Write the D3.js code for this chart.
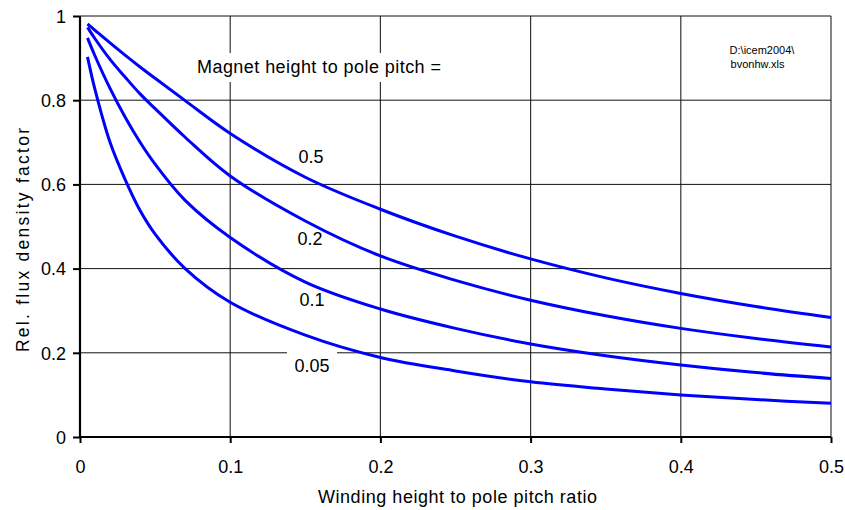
<!DOCTYPE html>
<html><head><meta charset="utf-8">
<script src="https://cdn.jsdelivr.net/npm/d3@7"></script>
<style>body{margin:0;background:#fff;} text{font-family:"Liberation Sans",Arial,sans-serif;fill:#000;}</style>
</head><body>
<svg id="c" width="845" height="510"></svg>
<script>
const xVals = [0.005, 0.01, 0.02, 0.03, 0.04, 0.05, 0.07, 0.1, 0.15, 0.2, 0.25, 0.3, 0.35, 0.4, 0.45, 0.5];
const ratio05  = [0.981, 0.966, 0.936, 0.907, 0.879, 0.852, 0.799, 0.721, 0.617, 0.541, 0.477, 0.423, 0.378, 0.341, 0.310, 0.284];
const ratio02  = [0.973, 0.946, 0.897, 0.855, 0.815, 0.780, 0.712, 0.620, 0.513, 0.430, 0.372, 0.325, 0.288, 0.258, 0.234, 0.214];
const ratio01  = [0.948, 0.905, 0.828, 0.760, 0.700, 0.648, 0.562, 0.474, 0.368, 0.304, 0.258, 0.221, 0.193, 0.171, 0.153, 0.139];
const ratio005 = [0.903, 0.825, 0.700, 0.612, 0.538, 0.482, 0.400, 0.320, 0.242, 0.189, 0.157, 0.131, 0.114, 0.100, 0.089, 0.080];
const seriesNames = ["0.5", "0.2", "0.1", "0.05"];
const xTicks = [0, 0.1, 0.2, 0.3, 0.4, 0.5];
const yTicks = [0, 0.2, 0.4, 0.6, 0.8, 1];
const xTitle = "Winding height to pole pitch ratio";
const yTitle = "Rel. flux density factor";
const legendTitle = "Magnet height to pole pitch =";
const fileNote = ["D:\\icem2004\\", "bvonhw.xls"];

const series = [ratio05, ratio02, ratio01, ratio005];
const svg = d3.select("#c");
const x = d3.scaleLinear().domain([0, 0.5]).range([80, 831]);
const y = d3.scaleLinear().domain([0, 1]).range([437, 16]);

// gridlines
const g = svg.append("g");
g.selectAll(".vg").data(xTicks.slice(1)).join("line")
  .attr("x1", d => x(d)).attr("x2", d => x(d)).attr("y1", y(0)).attr("y2", y(1))
  .attr("stroke", "#333").attr("stroke-width", 1.2);
g.selectAll(".hg").data(yTicks.slice(1)).join("line")
  .attr("x1", x(0)).attr("x2", x(0.5)).attr("y1", d => y(d)).attr("y2", d => y(d))
  .attr("stroke", "#111").attr("stroke-width", 1);

// white label boxes
svg.append("rect").attr("x", 190).attr("y", 53).attr("width", 258).attr("height", 29).attr("fill", "#fff");
svg.append("rect").attr("x", 287).attr("y", 351).attr("width", 50).attr("height", 28).attr("fill", "#fff");

// axes
const xAxis = d3.axisBottom(x).tickValues(xTicks).tickSize(6).tickFormat(d => d3.format("")(d));
const yAxis = d3.axisLeft(y).tickValues(yTicks).tickSize(7).tickFormat(d => d3.format("")(d));
const gx = svg.append("g").attr("transform", `translate(0,${y(0)})`).call(xAxis);
const gy = svg.append("g").attr("transform", `translate(${x(0)},0)`).call(yAxis);
[gx, gy].forEach(a => {
  a.attr("font-size", null).attr("font-family", null);
  a.select(".domain").attr("stroke", "#000").attr("stroke-width", 2.2);
  a.selectAll(".tick line").attr("stroke", "#000").attr("stroke-width", 2);
  a.selectAll(".tick text").style("font-family", "'Liberation Sans',Arial,sans-serif").style("font-size", "18px").attr("fill", "#000");
});
gx.select(".domain").attr("d", `M${x(0)},0H${x(0.5)}`);
gy.select(".domain").attr("d", `M0,${y(0)}V${y(1)}`);
gx.selectAll(".tick text").attr("y", 0).attr("dy", null).attr("transform", "translate(0,35.5)");
gy.selectAll(".tick text").attr("x", -14).attr("dy", "0.35em");

// curves
const line = d3.line().x(d => x(d[0])).y(d => y(d[1])).curve(d3.curveCatmullRom.alpha(0.5));
svg.selectAll(".curve").data(series).join("path")
  .attr("d", s => line(xVals.map((v, i) => [v, s[i]])))
  .attr("fill", "none").attr("stroke", "#0000ff").attr("stroke-width", 3);

// curve labels
const labelPos = [[311, 163], [310, 245], [312, 306], [312, 372]];
svg.selectAll(".lbl").data(seriesNames).join("text")
  .attr("x", (d, i) => labelPos[i][0]).attr("y", (d, i) => labelPos[i][1])
  .attr("text-anchor", "middle").style("font-size", "18px").text(d => d);

svg.append("text").attr("x", 197).attr("y", 72.5).style("font-size", "18px")
  .attr("textLength", 244).attr("lengthAdjust", "spacing").text(legendTitle);
svg.append("text").attr("x", 762).attr("y", 53.5).attr("text-anchor", "middle").style("font-size", "11px").text(fileNote[0]);
svg.append("text").attr("x", 757.5).attr("y", 68).attr("text-anchor", "middle").style("font-size", "11px").text(fileNote[1]);

svg.append("text").attr("x", 318).attr("y", 503).style("font-size", "18px")
  .attr("textLength", 279).attr("lengthAdjust", "spacing").text(xTitle);
svg.append("text").attr("transform", "translate(29,352) rotate(-90)").style("font-size", "17.5px")
  .attr("textLength", 224).attr("lengthAdjust", "spacing").text(yTitle);
</script>
</body></html>
